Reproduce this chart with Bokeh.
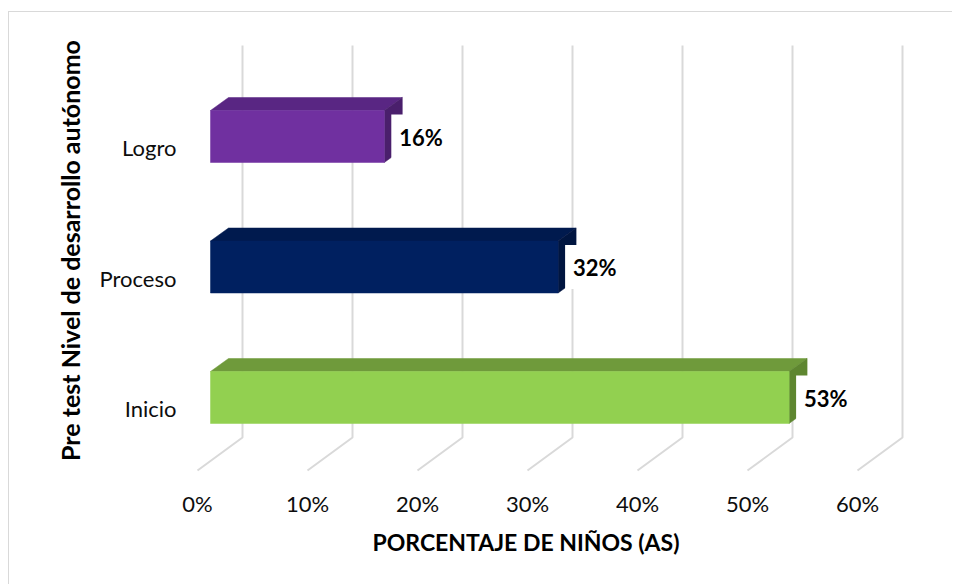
from bokeh.plotting import figure
from bokeh.models import Range1d, FixedTicker, ColumnDataSource, Title
from bokeh.embed import file_html
from bokeh.resources import INLINE
from bokeh.core.properties import value

# ---- data ----
categories = ["Inicio", "Proceso", "Logro"]
percentages = [52.6, 31.6, 15.8]
value_labels = ["53%", "32%", "16%"]
x_ticks = [0, 10, 20, 30, 40, 50, 60]
x_tick_labels = ["0%", "10%", "20%", "30%", "40%", "50%", "60%"]
front_colors = ["#92D050", "#002060", "#7030A0"]
top_colors = ["#6F9A3B", "#001A4E", "#592683"]
side_colors = ["#5E8630", "#001540", "#4A1F6C"]
x_title = "PORCENTAJE DE NIÑOS (AS)"
y_title = "Pre test Nivel de desarrollo autónomo"

# ---- geometry (pixel constants converted to data units) ----
PX = 11.0      # px per percent
PY = 130.5     # px per category step
H = 26 / PY    # half bar height
BDX, BDY = 18 / PX, 13 / PY          # bar depth
WALL_DX = 32 / PX                    # back wall offset
WALL_TOP, WALL_BOT = 352 / PY, -40 / PY
FLOOR_DX, FLOOR_Y = -13 / PX, -73 / PY
LABEL_DY = -11 / PY
FONT = "Lato"

p = figure(width=944, height=573, output_backend="svg", toolbar_location=None,
           x_range=Range1d(-25 / PX, 743 / PX), y_range=Range1d(-83 / PY, 377 / PY),
           min_border_left=176, min_border_right=0, min_border_top=8, min_border_bottom=105)
p.styles = {"border-top": "1px solid #D9D9D9", "border-left": "1px solid #D9D9D9",
            "margin-top": "11px", "margin-left": "8px"}
p.outline_line_color = None
p.xgrid.visible = False
p.ygrid.visible = False
p.background_fill_color = "white"
p.border_fill_color = "white"

# grid lines: back wall + floor
gx, gy = [], []
for v in x_ticks:
    gx.append([v + WALL_DX, v + WALL_DX, v + FLOOR_DX])
    gy.append([WALL_TOP, WALL_BOT, FLOOR_Y])
p.multi_line(gx, gy, line_color="#D9D9D9", line_width=2)

# bars
idx = list(range(len(categories)))
tops_x, tops_y, sides_x, sides_y = [], [], [], []
for i, val in zip(idx, percentages):
    tops_x.append([0, BDX, val + BDX, val])
    tops_y.append([i + H, i + H + BDY, i + H + BDY, i + H])
    sides_x.append([val, val + BDX, val + BDX, val])
    sides_y.append([i + H, i + H + BDY, i - H + BDY, i - H])
p.patches(tops_x, tops_y, fill_color=top_colors, line_color=top_colors, line_width=0.5)
p.patches(sides_x, sides_y, fill_color=side_colors, line_color=side_colors, line_width=0.5)
p.quad(left=0, right=percentages, bottom=[i - H for i in idx], top=[i + H for i in idx],
       fill_color=front_colors, line_color=front_colors, line_width=0.5)

# value labels
src = ColumnDataSource(dict(x=[v + 7 / PX for v in percentages], y=idx, t=value_labels))
p.text(x="x", y="y", text="t", source=src, text_font=value(FONT), text_font_style="bold",
       text_font_size="22px", text_align="left", text_baseline="middle", text_color="black",
       background_fill_color="white", padding={"left": 8, "right": 6, "top": 9, "bottom": 8})

# x axis
xt = [round(v + FLOOR_DX, 4) for v in x_ticks]
p.xaxis.ticker = FixedTicker(ticks=xt)
p.xaxis.major_label_overrides = {t: lab for t, lab in zip(xt, x_tick_labels)}
p.xaxis.axis_line_color = None
p.xaxis.major_tick_line_color = None
p.xaxis.major_tick_out = 0
p.xaxis.major_tick_in = 0
p.xaxis.minor_tick_line_color = None
p.xaxis.major_label_standoff = 9
p.xaxis.major_label_text_font = FONT
p.xaxis.major_label_text_font_size = "22px"
p.xaxis.major_label_text_color = "#0D0D0D"

p.add_layout(Title(text=x_title, align="left", offset=187, standoff=12,
                   text_font=FONT, text_font_style="bold", text_font_size="23px",
                   text_color="black"), "below")

# y axis
yt = [round(i + LABEL_DY, 4) for i in idx]
p.yaxis.ticker = FixedTicker(ticks=yt)
p.yaxis.major_label_overrides = {t: lab for t, lab in zip(yt, categories)}
p.yaxis.axis_line_color = None
p.yaxis.major_tick_line_color = None
p.yaxis.major_tick_out = 0
p.yaxis.major_tick_in = 0
p.yaxis.minor_tick_line_color = None
p.yaxis.major_label_standoff = 9
p.yaxis.major_label_text_font = FONT
p.yaxis.major_label_text_font_size = "22px"
p.yaxis.major_label_text_color = "#0D0D0D"
p.yaxis.axis_label = y_title
p.yaxis.axis_label_text_font = FONT
p.yaxis.axis_label_text_font_style = "bold"
p.yaxis.axis_label_text_font_size = "25px"
p.yaxis.axis_label_text_color = "black"
p.yaxis.axis_label_standoff = 12

open("out.html", "w").write(file_html(p, INLINE))
